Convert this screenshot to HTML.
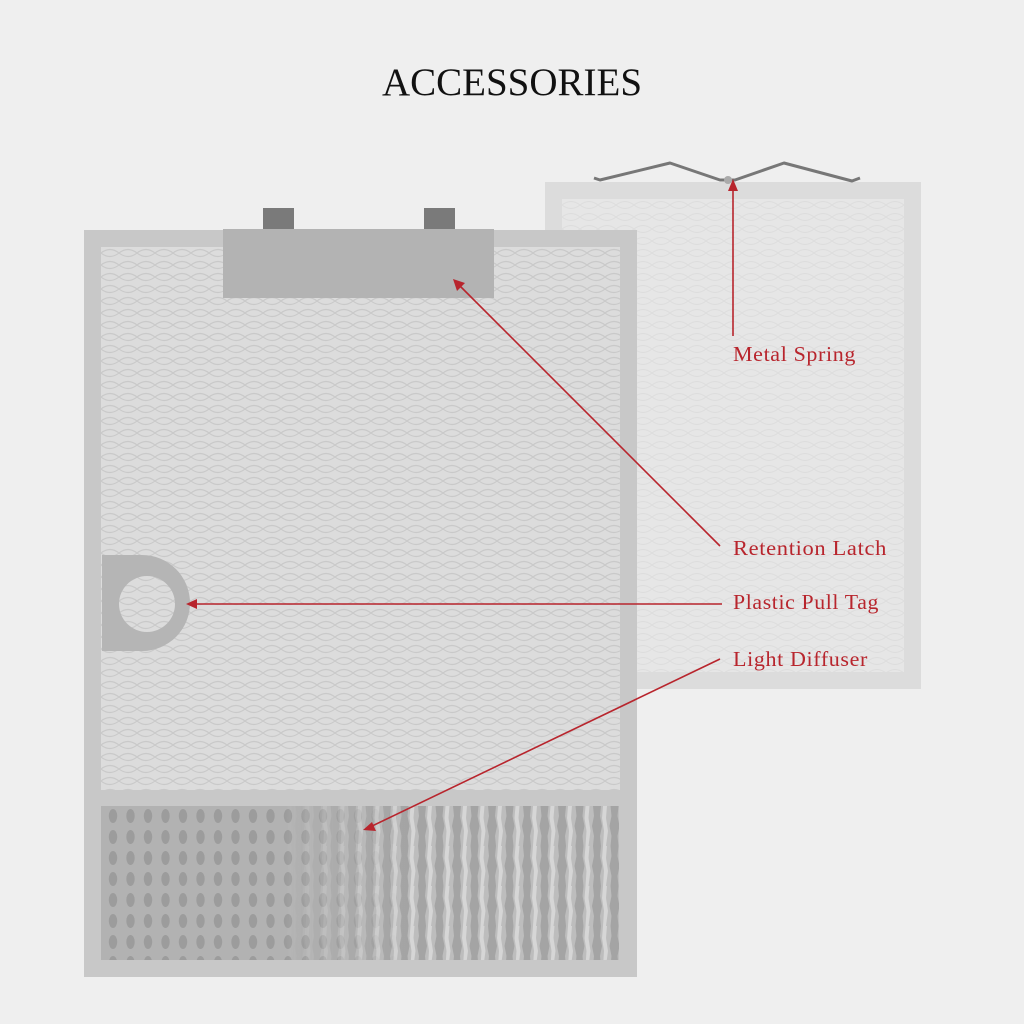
<!DOCTYPE html>
<html><head><meta charset="utf-8"><style>
html,body{margin:0;padding:0;background:#efefef;}
svg{display:block}
</style></head><body>
<svg width="1024" height="1024" viewBox="0 0 1024 1024" xmlns="http://www.w3.org/2000/svg">
<defs>
<pattern id="mesh" x="101" y="247" width="36" height="24" patternUnits="userSpaceOnUse">
<rect width="36" height="24" fill="#dcdcdc"/>
<path d="M0 6 Q9 -1 18 6 Q27 13 36 6 M0 6 Q9 13 18 6 Q27 -1 36 6 M0 18 Q9 11 18 18 Q27 25 36 18 M0 18 Q9 25 18 18 Q27 11 36 18" fill="none" stroke="#c9c9c9" stroke-width="1.1"/>
</pattern>
<pattern id="mesh2" x="562" y="199" width="36" height="24" patternUnits="userSpaceOnUse">
<rect width="36" height="24" fill="#e6e6e6"/>
<path d="M0 6 Q9 -1 18 6 Q27 13 36 6 M0 6 Q9 13 18 6 Q27 -1 36 6 M0 18 Q9 11 18 18 Q27 25 36 18 M0 18 Q9 25 18 18 Q27 11 36 18" fill="none" stroke="#dddddd" stroke-width="1"/>
</pattern>
<pattern id="blobs" x="101" y="806" width="17.5" height="21" patternUnits="userSpaceOnUse">
<rect width="17.5" height="21" fill="#b2b2b2"/>
<ellipse cx="12" cy="10" rx="4.2" ry="7" fill="#9c9c9c"/>
</pattern>
<pattern id="stripes" x="101" y="806" width="17.5" height="40" patternUnits="userSpaceOnUse">
<rect width="17.5" height="40" fill="#bdbdbd"/>
<path d="M2 0 L10 0 L9 10 L11 20 L9 30 L10 40 L2 40 L3 30 L1 20 L3 10Z" fill="#a4a4a4"/>
<path d="M12 0 L16 0 L15 12 L17 25 L15 40 L12 40 L13 25 L11 12Z" fill="#d6d6d6"/>
</pattern>
<linearGradient id="fade" x1="0" x2="1" y1="0" y2="0">
<stop offset="0" stop-color="#fff" stop-opacity="1"/>
<stop offset="0.35" stop-color="#fff" stop-opacity="1"/>
<stop offset="0.6" stop-color="#fff" stop-opacity="0"/>
</linearGradient>
<mask id="m"><rect x="101" y="806" width="518" height="154" fill="url(#fade)"/></mask>
</defs>

<text x="512" y="95" text-anchor="middle" font-family="Liberation Serif, serif" font-size="39" fill="#111">ACCESSORIES</text>

<rect x="545" y="182" width="376" height="507" fill="#dcdcdc"/>
<rect x="562" y="199" width="342" height="473" fill="url(#mesh2)"/>
<polyline points="594,178 600,180 670,163 720,180 735,180 784,163 852,181 860,178" fill="none" stroke="#777" stroke-width="3" stroke-linejoin="round"/>
<circle cx="728" cy="180" r="4" fill="#aaa"/>

<rect x="84" y="230" width="553" height="747" fill="#c8c8c8"/>
<rect x="101" y="247" width="519" height="543" fill="url(#mesh)"/>
<rect x="101" y="806" width="518" height="154" fill="url(#stripes)"/>
<rect x="101" y="806" width="518" height="154" fill="url(#blobs)" mask="url(#m)"/>
<rect x="263" y="208" width="31" height="22" fill="#7a7a7a"/>
<rect x="424" y="208" width="31" height="22" fill="#7a7a7a"/>
<rect x="223" y="229" width="271" height="69" fill="#b3b3b3"/>
<path d="M102 555 L142 555 A48 48 0 0 1 142 651 L102 651 Z M175 604 A28 28 0 1 0 119 604 A28 28 0 1 0 175 604 Z" fill="#b5b5b5" fill-rule="evenodd"/>

<g stroke="#b8252d" stroke-width="1.6" fill="none">
<line x1="733" y1="336" x2="733" y2="188"/>
<line x1="720" y1="546" x2="459" y2="285"/>
<line x1="722" y1="604" x2="194" y2="604"/>
<line x1="720" y1="659" x2="370" y2="827"/>
</g>
<g fill="#b8252d">
<polygon points="733,179 728,191 738,191"/>
<polygon points="453,279 457,291 465,283"/>
<polygon points="186,604 197,599 197,609"/>
<polygon points="363,830 372,822 376,831"/>
</g>
<g font-family="Liberation Serif, serif" font-size="21" fill="#b8252d" letter-spacing="0.6">
<text x="733" y="361" textLength="123" lengthAdjust="spacingAndGlyphs">Metal Spring</text>
<text x="733" y="555" textLength="154" lengthAdjust="spacingAndGlyphs">Retention Latch</text>
<text x="733" y="609" textLength="146" lengthAdjust="spacingAndGlyphs">Plastic Pull Tag</text>
<text x="733" y="666" textLength="135" lengthAdjust="spacingAndGlyphs">Light Diffuser</text>
</g>
</svg>
</body></html>
